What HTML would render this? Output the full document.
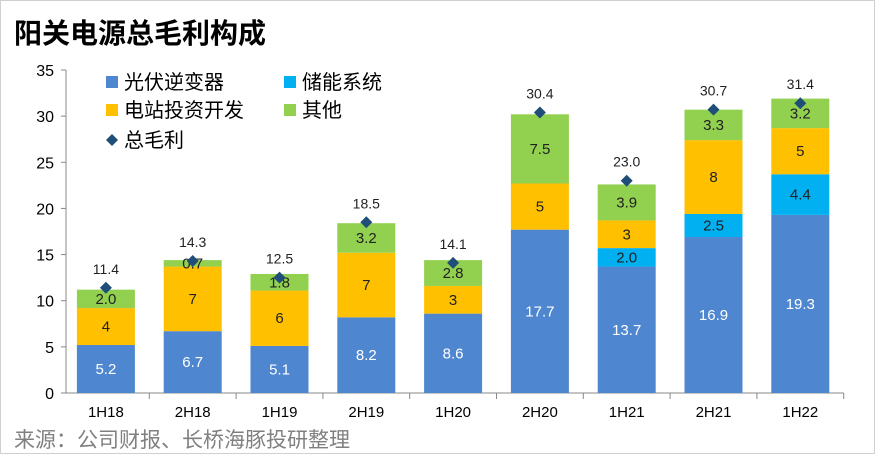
<!DOCTYPE html>
<html><head><meta charset="utf-8"><style>
body{margin:0;background:#fff;}
#wrap{position:relative;width:875px;height:454px;overflow:hidden;font-family:"Liberation Sans","Noto Sans CJK SC",sans-serif;}
</style></head><body>
<div id="wrap">
<svg id="chart" width="875" height="454">
<rect x="0.5" y="0.5" width="874" height="453" fill="#fff" stroke="#d0d0d0"/>
<text x="14" y="43" font-size="28" font-weight="bold" fill="#000" font-family="Liberation Sans, Noto Sans CJK SC, sans-serif">阳关电源总毛利构成</text>
<text x="14" y="447" font-size="21" fill="#808080" font-family="Liberation Sans, Noto Sans CJK SC, sans-serif">来源：公司财报、长桥海豚投研整理</text>
<g id="legend">
<rect x="106" y="76" width="12" height="12" fill="#4F86D0"/>
<text x="124" y="89" font-size="20" fill="#000">光伏逆变器</text>
<rect x="284" y="76" width="12" height="12" fill="#00B0F0"/>
<text x="302" y="89" font-size="20" fill="#000">储能系统</text>
<rect x="106" y="104" width="12" height="12" fill="#FFC000"/>
<text x="124" y="117" font-size="20" fill="#000">电站投资开发</text>
<rect x="284" y="104" width="12" height="12" fill="#92D050"/>
<text x="302" y="117" font-size="20" fill="#000">其他</text>
<path d="M112 134 L118 140 L112 146 L106 140Z" fill="#1F4E79"/>
<text x="124" y="147" font-size="20" fill="#000">总毛利</text>
</g>
</svg>
</div>
<script>
const categories=["1H18","2H18","1H19","2H19","1H20","2H20","1H21","2H21","1H22"];
const inverter=[5.2,6.7,5.1,8.2,8.6,17.7,13.7,16.9,19.3];
const storage=[0,0,0,0,0,0,2.0,2.5,4.4];
const station=[4,7,6,7,3,5,3,8,5];
const other=[2.0,0.7,1.8,3.2,2.8,7.5,3.9,3.3,3.2];
const total=[11.4,14.3,12.5,18.5,14.1,30.4,23.0,30.7,31.4];
const yTicks=[0,5,10,15,20,25,30,35];
const NS="http://www.w3.org/2000/svg";
const svg=document.getElementById('chart');
const y0=393,y35=70,xL=62.5,step=86.8,bw=58,axisX=66;
function y(v){return y0-(v/35)*(y0-y35);}
function xc(i){return xL+step/2+step*i;}
function mk(tag,attrs,parent){const e=document.createElementNS(NS,tag);for(const k in attrs)e.setAttribute(k,attrs[k]);(parent||svg).appendChild(e);return e;}
const axis=mk('g',{});


let l=mk('line',{x1:axisX,x2:axisX,y1:y(35),y2:y0,stroke:'#888'},axis);


yTicks.forEach(t=>{
 let tk=mk('line',{x1:axisX-5,x2:axisX,y1:y(t),y2:y(t),stroke:'#888'},axis);
 
 
 let tx=mk('text',{x:axisX-12,y:y(t)+6,'font-size':16,'text-anchor':'end',fill:'#000'},axis);
 tx.textContent=t;
 
 
});
l=mk('line',{x1:axisX,x2:xL+step*9,y1:y0,y2:y0,stroke:'#888'},axis);


for(let i=1;i<=9;i++){
 let tk=mk('line',{x1:xL+step*i,x2:xL+step*i,y1:y0,y2:y0+6,stroke:'#888'},axis);
 
 
}
const series=[[inverter,'#4F86D0','#fff','inverter'],[storage,'#00B0F0','#222','storage'],[station,'#FFC000','#222','station'],[other,'#92D050','#222','other']];
categories.forEach((c,i)=>{
 let tx=mk('text',{x:xc(i),y:417,'font-size':15,'text-anchor':'middle',fill:'#000'});
 tx.textContent=c;
 
 
 let base=0;
 series.forEach(s=>{
  const v=s[0][i];
  if(v>0){
   let r=mk('rect',{x:xc(i)-bw/2,y:y(base+v),width:bw,height:y(base)-y(base+v),fill:s[1]});
   
   
   let lb=mk('text',{x:xc(i),y:(y(base)+y(base+v))/2+5,'font-size':15,'text-anchor':'middle',fill:s[2]});
   lb.textContent=(s[3]==='station')?String(v):v.toFixed(1);
   
   
  }
  base+=v;
 });
 const ty=y(total[i]);
 let d=mk('path',{d:`M${xc(i)} ${ty-6} L${xc(i)+6} ${ty} L${xc(i)} ${ty+6} L${xc(i)-6} ${ty}Z`,fill:'#1F4E79'});
 
 
 let tl=mk('text',{x:xc(i),y:ty-14,'font-size':14,'text-anchor':'middle',fill:'#222'});
 tl.textContent=total[i].toFixed(1);
 
 
});
</script>
</body></html>
